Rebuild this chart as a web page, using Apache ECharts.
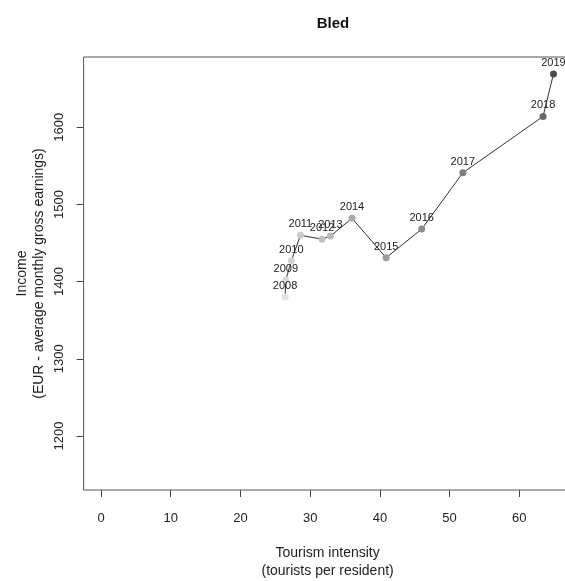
<!DOCTYPE html>
<html>
<head>
<meta charset="utf-8">
<script src="https://cdn.jsdelivr.net/npm/echarts@6/dist/echarts.min.js"></script>
<style>
  html, body { margin: 0; padding: 0; background: #ffffff; }
  #chart { width: 565px; height: 581px; }
</style>
</head>
<body>
<div id="chart"></div>
<script>
// Bled: tourism intensity vs. average monthly gross earnings, 2008-2019
const years = [2008, 2009, 2010, 2011, 2012, 2013, 2014, 2015, 2016, 2017, 2018, 2019];
const tourismIntensity = [26.4, 26.5, 27.3, 28.6, 31.7, 32.9, 36.0, 40.9, 46.0, 51.9, 63.4, 64.9];
const income = [1380, 1402, 1427, 1460, 1455, 1459, 1482, 1431, 1468, 1541, 1614, 1669];

const xTicks = [0, 10, 20, 30, 40, 50, 60];
const yTicks = [1200, 1300, 1400, 1500, 1600];

// grey ramp: earlier years lighter, later years darker
const pointColors = ['#e2e2e2', '#dadada', '#d2d2d2', '#cacaca', '#c2c2c2', '#b9b9b9',
                     '#ababab', '#9c9c9c', '#8d8d8d', '#7d7d7d', '#686868', '#4c4c4c'];

const FONT = 'Liberation Sans, Arial, Helvetica, sans-serif';

const points = years.map((yr, i) => ({
  value: [tourismIntensity[i], income[i]],
  name: String(yr),
  itemStyle: { color: pointColors[i] }
}));

const chart = echarts.init(document.getElementById('chart'), null, { renderer: 'canvas' });

chart.setOption({
  animation: false,
  backgroundColor: '#ffffff',
  title: {
    text: 'Bled',
    left: 328,
    top: 11,
    textAlign: 'center',
    textStyle: { fontFamily: FONT, fontSize: 15, fontWeight: 'bold', color: '#111' }
  },
  grid: {
    left: 83.6,
    top: 57,
    width: 488,
    height: 433,
    containLabel: false,
    outerBoundsMode: 'none',
    show: true,
    borderColor: '#555',
    borderWidth: 1,
    backgroundColor: 'transparent'
  },
  xAxis: {
    type: 'value',
    min: -2.5,
    max: 67.5,
    splitLine: { show: false },
    axisLine: { show: false, onZero: false },
    axisTick: { show: true, length: 7, lineStyle: { color: '#444' }, customValues: xTicks },
    axisLabel: { margin: 22, fontFamily: FONT, fontSize: 13, color: '#222', customValues: xTicks,
                 formatter: v => String(v) },
    name: 'Tourism intensity\n(tourists per resident)',
    nameLocation: 'middle',
    nameGap: 54,
    nameMoveOverlap: false,
    nameTextStyle: { fontFamily: FONT, fontSize: 14, color: '#222', lineHeight: 18 }
  },
  yAxis: {
    type: 'value',
    min: 1130,
    max: 1691,
    splitLine: { show: false },
    axisLine: { show: false, onZero: false },
    axisTick: { show: true, length: 7, lineStyle: { color: '#444' }, customValues: yTicks },
    axisLabel: { margin: 18, rotate: 90, fontFamily: FONT, fontSize: 13, color: '#222', customValues: yTicks,
                 formatter: v => String(v) },
    name: 'Income\n(EUR - average monthly gross earnings)',
    nameLocation: 'middle',
    nameGap: 36,
    nameMoveOverlap: false,
    nameTextStyle: { fontFamily: FONT, fontSize: 14, color: '#222', lineHeight: 17 }
  },
  series: [{
    type: 'line',
    data: points,
    showSymbol: true,
    symbol: 'circle',
    symbolSize: 7,
    lineStyle: { color: '#333', width: 1 },
    itemStyle: { borderWidth: 0 },
    label: {
      show: true,
      position: 'top',
      distance: 2,
      formatter: p => p.name,
      fontFamily: FONT,
      fontSize: 11,
      color: '#222'
    },
    z: 3
  }]
});
</script>
</body>
</html>
